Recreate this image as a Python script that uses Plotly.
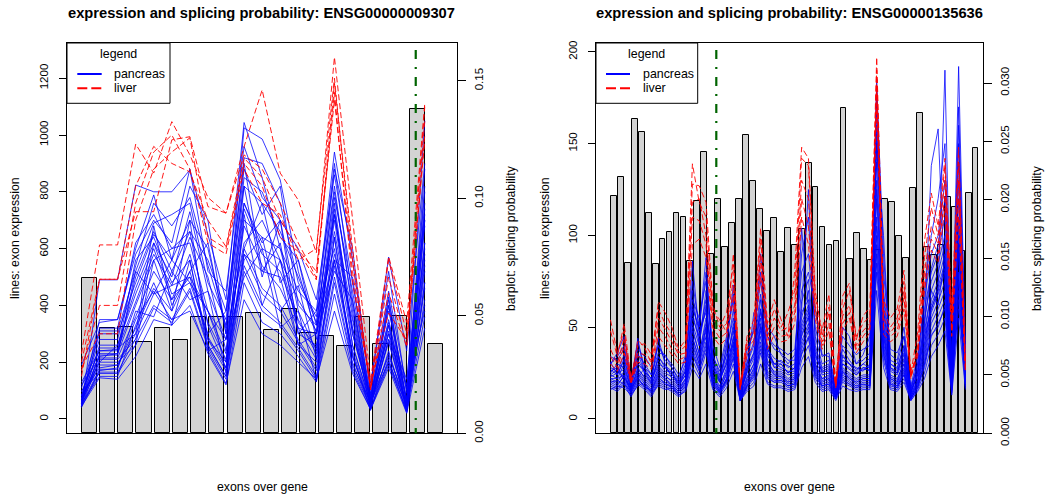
import plotly.graph_objects as go

W, H = 1047, 498
FONT = "Liberation Sans, Arial, Helvetica, sans-serif"

# ---------------- Gene 1 : ENSG00000009307 ----------------
gene1 = "ENSG00000009307"
exons1 = list(range(1, 21))
splice_prob1 = [0.0661, 0.0450, 0.0453, 0.0388, 0.0450, 0.0399, 0.0495, 0.0494, 0.0497, 0.0510,
                0.0438, 0.0531, 0.0425, 0.0416, 0.0370, 0.0495, 0.0378, 0.0500, 0.1381, 0.0381]
marker1 = 19.5
pancreas1 = [
    [45, 490, 490, 824, 800, 800, 877, 650, 420, 1044, 850, 600, 450, 380, 940, 560, 110, 570, 240, 900],
    [60, 350, 350, 600, 789, 560, 820, 700, 300, 1025, 986, 842, 520, 300, 880, 600, 90, 450, 110, 1050],
    [190, 340, 350, 580, 700, 620, 880, 520, 450, 960, 780, 700, 600, 420, 860, 480, 127, 520, 90, 820],
    [110, 310, 310, 520, 690, 720, 760, 480, 350, 920, 900, 760, 480, 360, 900, 420, 75, 400, 60, 880],
    [80, 300, 300, 480, 650, 560, 700, 600, 320, 880, 720, 820, 400, 330, 820, 380, 60, 430, 50, 760],
    [55, 260, 260, 460, 620, 500, 730, 450, 280, 850, 800, 640, 560, 280, 780, 450, 85, 380, 100, 700],
    [70, 250, 250, 300, 680, 400, 520, 620, 300, 600, 760, 480, 560, 330, 560, 500, 50, 300, 140, 720],
    [95, 240, 245, 410, 580, 470, 640, 500, 240, 760, 620, 700, 380, 240, 720, 320, 45, 330, 35, 620],
    [50, 230, 230, 400, 560, 600, 620, 380, 230, 740, 580, 520, 350, 230, 700, 300, 70, 300, 30, 580],
    [65, 225, 225, 520, 440, 560, 480, 300, 380, 900, 520, 620, 300, 380, 600, 220, 40, 400, 25, 480],
    [120, 215, 215, 360, 520, 420, 580, 340, 210, 680, 540, 460, 320, 210, 640, 260, 55, 270, 45, 540],
    [45, 210, 210, 280, 620, 440, 480, 380, 200, 820, 500, 700, 300, 260, 580, 350, 35, 200, 22, 700],
    [75, 200, 200, 260, 560, 380, 700, 280, 200, 560, 640, 380, 470, 210, 760, 300, 65, 220, 60, 620],
    [60, 190, 190, 320, 460, 380, 520, 290, 180, 600, 460, 400, 280, 180, 560, 230, 30, 240, 28, 480],
    [85, 180, 190, 300, 440, 470, 500, 280, 170, 580, 440, 380, 270, 170, 540, 220, 50, 230, 40, 460],
    [50, 175, 175, 380, 360, 520, 420, 450, 160, 720, 400, 560, 260, 300, 520, 420, 45, 330, 30, 560],
    [40, 165, 165, 280, 400, 350, 460, 260, 150, 540, 400, 340, 250, 150, 500, 200, 38, 210, 25, 420],
    [100, 160, 160, 260, 390, 340, 450, 250, 140, 520, 380, 330, 240, 140, 480, 190, 60, 200, 50, 400],
    [55, 150, 150, 330, 480, 330, 560, 240, 280, 500, 600, 320, 380, 135, 640, 180, 42, 280, 120, 380],
    [45, 145, 140, 220, 350, 330, 400, 230, 120, 480, 340, 300, 220, 130, 440, 170, 35, 190, 30, 360],
    [70, 200, 260, 440, 600, 420, 500, 380, 280, 620, 700, 560, 320, 300, 660, 320, 80, 340, 70, 600],
    [60, 220, 230, 500, 660, 520, 660, 330, 180, 700, 640, 600, 340, 250, 740, 260, 55, 310, 45, 680],
    [130, 240, 240, 560, 640, 480, 560, 260, 150, 580, 520, 500, 260, 200, 560, 240, 48, 280, 35, 520],
    [50, 320, 320, 620, 720, 600, 660, 560, 380, 820, 760, 660, 500, 340, 800, 400, 70, 350, 55, 740],
    [80, 280, 280, 540, 760, 680, 780, 540, 330, 760, 600, 560, 420, 310, 720, 360, 62, 420, 65, 800],
    [45, 170, 180, 350, 450, 350, 380, 240, 125, 420, 300, 260, 200, 140, 380, 160, 33, 180, 20, 320],
]
liver1 = [
    [230, 613, 613, 968, 866, 1047, 930, 780, 725, 959, 1159, 866, 771, 585, 1274, 700, 137, 572, 340, 1112],
    [200, 492, 492, 730, 730, 983, 994, 748, 725, 930, 880, 760, 620, 497, 1182, 600, 102, 444, 254, 1100],
    [150, 492, 492, 820, 960, 900, 870, 700, 607, 919, 850, 700, 595, 520, 1124, 520, 110, 560, 300, 1050],
    [180, 300, 300, 700, 880, 940, 990, 640, 600, 900, 820, 640, 590, 490, 1150, 480, 120, 373, 278, 980],
    [170, 400, 400, 760, 940, 1000, 880, 620, 580, 880, 760, 720, 560, 600, 1200, 560, 105, 500, 260, 1000],
]

# ---------------- Gene 2 : ENSG00000135636 ----------------
gene2 = "ENSG00000135636"
exons2 = list(range(1, 54))
splice_prob2 = [0.02034, 0.02199, 0.01455, 0.02694, 0.02583, 0.01890, 0.01451, 0.01665, 0.01721, 0.01884,
                0.01854, 0.01477, 0.01991, 0.02413, 0.01532, 0.02011, 0.01597, 0.01802, 0.02003, 0.02552,
                0.02157, 0.01923, 0.01734, 0.01840, 0.01549, 0.01755, 0.01614, 0.01746, 0.02312, 0.02111,
                0.01768, 0.01614, 0.01648, 0.02783, 0.01496, 0.01719, 0.01577, 0.01481, 0.01571, 0.02007,
                0.01984, 0.01691, 0.01505, 0.02098, 0.02745, 0.01592, 0.01528, 0.01614, 0.02020, 0.01935,
                0.01565, 0.02055, 0.02445]
marker2 = 16.5
pancreas2 = [
    [30,36,45,22,30,26,22,30,28,24, 20,26,86,45,60,30,22,30,50,14, 28,34,60,36,30,32,28,30,60,125, 40,28,30,15,35,30,26,30,28,185, 60,30,28,40,15,26,50,138,158,70, 25,60,30],
    [25,30,28,18,44,24,20,44,30,22, 18,24,60,50,88,28,20,40,73,12, 26,58,50,40,28,30,25,28,104,60, 35,26,28,14,30,28,24,28,26,150, 100,28,25,35,14,24,45,60,70,190, 22,80,28],
    [28,26,35,20,35,30,24,36,35,28, 22,35,70,40,70,35,24,35,60,16, 30,40,90,50,45,35,30,35,70,80, 60,35,34,17,50,45,30,35,45,170, 70,35,32,50,17,30,60,80,90,110, 30,192,35],
    [24,22,30,16,28,22,18,28,24,20, 16,22,50,35,55,24,18,26,45,12, 22,30,55,30,26,26,22,24,50,60, 30,22,24,13,28,25,22,24,24,130, 50,24,22,30,13,22,40,65,75,90, 20,120,24],
    [22,20,26,15,25,20,16,25,22,18, 15,20,45,32,50,22,16,24,42,11, 20,28,50,28,24,24,20,22,45,55, 28,20,22,12,26,23,20,22,22,120, 45,22,20,28,12,20,36,58,68,80, 18,105,22],
    [20,18,24,14,22,18,15,22,20,17, 14,18,40,30,45,20,15,22,38,10, 18,25,45,25,22,22,18,20,40,50, 26,18,20,12,24,21,18,20,20,110, 40,20,18,26,11,18,32,52,60,70, 17,90,20],
    [26,28,22,18,32,26,22,32,26,26, 20,28,55,45,65,26,20,32,48,14, 26,36,65,38,30,28,26,26,55,70, 34,26,26,14,32,30,28,26,30,160, 60,28,26,36,14,26,55,75,85,100, 26,140,26],
    [18,16,20,13,20,17,13,20,18,16, 13,17,35,26,40,18,14,20,34,10, 17,22,40,22,20,20,17,18,36,45, 24,17,18,11,22,19,17,18,18,90, 35,18,17,24,11,17,28,45,52,60, 15,75,18],
    [34,32,38,22,38,34,28,40,34,30, 24,32,65,55,75,40,28,45,65,18, 38,48,75,45,40,38,35,38,80,90, 50,34,36,18,45,40,35,38,40,175, 80,38,36,45,18,34,65,90,100,130, 32,150,36],
    [21,19,23,15,24,19,15,24,21,18, 15,19,42,30,48,21,15,22,40,11, 19,26,48,26,23,23,19,21,42,52, 27,19,21,12,25,22,19,21,21,100, 42,21,19,27,12,19,34,55,64,75, 17,95,21],
    [23,25,27,17,27,23,19,27,23,21, 17,22,48,36,52,23,17,28,44,12, 23,30,52,32,25,25,21,23,48,58, 30,22,23,13,27,24,21,23,23,140, 48,23,21,32,13,21,42,62,72,85, 19,110,23],
    [19,17,21,14,21,18,14,21,19,17, 14,18,38,28,42,19,14,21,36,10, 18,24,42,24,21,21,18,19,38,48, 25,18,19,11,23,20,18,19,19,95, 38,19,18,25,11,18,30,48,56,65, 16,80,19],
    [30,34,40,20,42,28,24,40,32,28, 21,30,75,50,80,34,26,42,68,15, 34,50,80,45,38,36,32,32,90,110, 45,30,32,16,40,36,30,32,36,180, 90,32,30,45,16,30,70,100,120,150, 28,170,32],
    [27,24,32,18,30,26,20,34,28,25, 19,26,58,42,62,28,21,30,52,13, 28,36,60,34,30,30,25,28,58,65, 36,25,27,14,34,30,25,28,28,150, 55,27,25,38,14,25,48,70,80,95, 24,130,28],
    [17,15,19,12,19,16,12,19,17,15, 12,16,32,24,36,17,13,19,30,10, 16,20,36,20,18,18,16,17,32,40, 22,16,17,11,20,18,16,17,17,80, 32,17,16,22,10,16,25,40,46,55, 14,65,17],
    [22,22,24,16,26,21,17,26,22,19, 16,21,44,33,50,22,16,25,42,11, 21,27,50,30,24,23,20,22,46,56, 29,21,22,12,26,22,20,22,22,125, 46,22,20,30,12,20,38,60,70,82, 18,100,22],
    [16,18,17,13,18,20,14,18,16,17, 13,15,28,22,30,16,12,17,26,10, 15,18,30,19,17,17,15,16,28,34, 20,15,16,10,18,16,15,16,16,70, 28,16,15,20,10,15,22,34,40,48, 13,55,16],
    [24,27,21,17,22,28,21,29,25,23, 19,24,52,40,44,30,21,35,40,15, 25,33,58,35,28,27,24,25,52,62, 32,24,25,15,30,27,24,27,27,105, 52,26,24,33,15,24,45,70,62,88, 22,96,26],
    [31,24,33,19,36,25,19,34,29,26, 17,27,62,48,58,32,23,38,55,13, 31,42,68,38,33,31,29,27,64,76, 38,27,29,16,38,32,27,30,33,155, 66,30,27,40,16,28,52,82,95,120, 24,160,30],
    [20,21,19,15,23,17,16,23,19,18, 15,20,36,27,38,19,15,21,33,11, 18,23,38,23,20,21,18,19,35,44, 23,18,19,12,21,19,17,19,18,85, 36,19,17,24,11,17,30,46,50,62, 16,70,19],
]
liver2 = [
    [54,36,48,20,43,39,30,64,58,50, 38,43,139,118,110,59,54,47,90,17, 45,54,104,52,65,54,45,81,148,142, 70,45,61,18,67,74,43,56,61,197, 65,55,60,81,25,47,97,123,105,142, 60,148,32],
    [48,34,52,22,40,41,35,60,52,46, 36,40,128,127,118,62,50,58,84,19, 42,50,98,48,60,50,58,70,142,138, 66,48,68,20,60,70,45,52,56,190, 60,50,55,75,23,40,88,115,100,138, 55,140,30],
    [38,30,44,21,36,35,32,55,49,42, 35,36,118,120,100,55,48,52,76,16, 40,46,90,45,55,48,50,62,130,120, 61,42,58,19,56,62,40,48,52,185, 55,47,52,70,22,38,80,105,95,130, 50,130,28],
    [34,28,40,20,34,33,28,50,45,38, 32,34,110,108,95,50,44,47,70,18, 38,43,85,42,50,45,46,58,120,105, 58,40,52,18,52,58,38,45,50,180, 50,45,48,66,24,36,75,98,90,122, 48,120,26],
    [30,26,36,19,31,30,27,45,40,35, 30,31,95,98,88,45,40,44,65,17, 35,40,78,38,46,42,43,52,110,95, 54,38,48,17,48,55,36,42,47,170, 46,42,45,60,23,34,70,92,85,115, 45,110,25],
]

ticks_expr1 = [0, 200, 400, 600, 800, 1000, 1200]
ticks_prob1 = [0.0, 0.05, 0.10, 0.15]
ticks_prob1_text = ["0.00", "0.05", "0.10", "0.15"]
ticks_expr2 = [0, 50, 100, 150, 200]
ticks_prob2 = [0.0, 0.005, 0.010, 0.015, 0.020, 0.025, 0.030]
ticks_prob2_text = ["0.000", "0.005", "0.010", "0.015", "0.020", "0.025", "0.030"]

# ---------------- figure ----------------
def px(x):
    return x / W

def py(y):
    return 1 - y / H

fig = go.Figure()

def add_panel(exons, probs, pancreas, liver, xb, yb, xl, yl):
    fig.add_trace(go.Bar(x=exons, y=probs, width=1 / 1.2,
                         marker=dict(color="#D3D3D3", line=dict(color="black", width=1)),
                         xaxis=xb, yaxis=yb, showlegend=False, hoverinfo="skip"))
    for s in pancreas:
        fig.add_trace(go.Scatter(x=exons, y=s, mode="lines",
                                 line=dict(color="rgba(0,0,255,0.78)", width=1),
                                 xaxis=xl, yaxis=yl, showlegend=False, hoverinfo="skip"))
    for s in liver:
        fig.add_trace(go.Scatter(x=exons, y=s, mode="lines",
                                 line=dict(color="rgba(255,0,0,0.9)", width=1, dash="6px,3px"),
                                 xaxis=xl, yaxis=yl, showlegend=False, hoverinfo="skip"))

add_panel(exons1, splice_prob1, pancreas1, liver1, "x", "y", "x3", "y3")
add_panel(exons2, splice_prob2, pancreas2, liver2, "x2", "y2", "x4", "y4")

dy = [py(433.3), py(43)]
dxL = [px(67), px(457.3)]
dxR = [px(596), px(982.7)]
tickfont = dict(size=11.5, family=FONT, color="black")
base_x = dict(showline=True, mirror=True, linecolor="black", linewidth=1, showticklabels=False,
              ticks="", showgrid=False, zeroline=False, automargin=False)
yprob = dict(side="right", ticks="outside", ticklen=8, tickwidth=1, tickcolor="black", tickangle=-90,
             showline=True, mirror=True, linecolor="black", linewidth=1, showgrid=False, zeroline=False,
             tickfont=tickfont, ticklabelstandoff=3, automargin=False)
yexpr = dict(side="left", ticks="outside", ticklen=7, tickwidth=1, tickcolor="black", tickangle=-90,
             showline=False, showgrid=False, zeroline=False, tickfont=tickfont, ticklabelstandoff=6,
             automargin=False)

fig.update_layout(
    template="none",
    width=W, height=H, autosize=False, margin=dict(l=0, r=0, t=0, b=0, pad=0),
    paper_bgcolor="white", plot_bgcolor="white",
    font=dict(family=FONT, size=12, color="black"),
    showlegend=False,
    bargap=0,
    xaxis=dict(domain=dxL, range=[-0.2233, 21.19], anchor="y", **base_x),
    yaxis=dict(domain=dy, range=[0, 0.1661], anchor="x", tickvals=ticks_prob1, ticktext=ticks_prob1_text, **yprob),
    xaxis3=dict(overlaying="x", range=[0.2, 21.8], visible=False, anchor="y3", automargin=False),
    yaxis3=dict(overlaying="y", anchor="x3", range=[-50.4, 1324], tickvals=ticks_expr1, **yexpr),
    xaxis2=dict(domain=dxR, range=[-1.5683, 54.025], anchor="y2", **base_x),
    yaxis2=dict(domain=dy, range=[0, 0.03343], anchor="x2", tickvals=ticks_prob2, ticktext=ticks_prob2_text, **yprob),
    xaxis4=dict(overlaying="x2", range=[-1.1245, 55.53], visible=False, anchor="y4", automargin=False),
    yaxis4=dict(overlaying="y2", anchor="x4", range=[-7.8, 204.8], tickvals=ticks_expr2, **yexpr),
)

shapes = []
annotations = []

def panel_decor(gene, marker, xl, title_x, ylab_x, yrlab_x, xlab_x, leg_x0, leg_x1, leg_title_x, leg_line_x0, leg_line_x1, leg_text_x):
    # splice-site marker (dark green dot-dash)
    shapes.append(dict(type="line", xref=xl, yref="paper", x0=marker, x1=marker, y0=py(50), y1=py(433.3),
                       line=dict(color="#006400", width=2.2, dash="9px,8px,2px,8px"), layer="above"))
    # legend box
    shapes.append(dict(type="rect", xref="paper", yref="paper", x0=px(leg_x0), x1=px(leg_x1), y0=py(103.3), y1=py(43),
                       fillcolor="white", line=dict(color="black", width=1), layer="above"))
    shapes.append(dict(type="line", xref="paper", yref="paper", x0=px(leg_line_x0), x1=px(leg_line_x1), y0=py(74), y1=py(74),
                       line=dict(color="blue", width=2), layer="above"))
    shapes.append(dict(type="line", xref="paper", yref="paper", x0=px(leg_line_x0), x1=px(leg_line_x1), y0=py(88.3), y1=py(88.3),
                       line=dict(color="red", width=2, dash="10px,4px"), layer="above"))
    annotations.append(dict(text="legend", x=px(leg_title_x), y=py(54), xref="paper", yref="paper", showarrow=False,
                            xanchor="center", yanchor="middle", font=dict(size=12.4)))
    annotations.append(dict(text="pancreas", x=px(leg_text_x), y=py(74), xref="paper", yref="paper", showarrow=False,
                            xanchor="left", yanchor="middle", font=dict(size=12.4)))
    annotations.append(dict(text="liver", x=px(leg_text_x), y=py(88.3), xref="paper", yref="paper", showarrow=False,
                            xanchor="left", yanchor="middle", font=dict(size=12.4)))
    # titles
    annotations.append(dict(text="<b>expression and splicing probability: " + gene + "</b>", x=px(title_x), y=py(13.3),
                            xref="paper", yref="paper", showarrow=False, xanchor="center", yanchor="middle",
                            font=dict(size=14.7)))
    annotations.append(dict(text="lines: exon expression", x=px(ylab_x), y=py(238), xref="paper", yref="paper",
                            showarrow=False, textangle=-90, xanchor="center", yanchor="middle", font=dict(size=12.3)))
    annotations.append(dict(text="barplot: splicing probability", x=px(yrlab_x), y=py(238), xref="paper", yref="paper",
                            showarrow=False, textangle=-90, xanchor="center", yanchor="middle", font=dict(size=12.3)))
    annotations.append(dict(text="exons over gene", x=px(xlab_x), y=py(487), xref="paper", yref="paper",
                            showarrow=False, xanchor="center", yanchor="middle", font=dict(size=12.3)))

panel_decor(gene1, marker1, "x3", 261.7, 15, 511, 262, 67, 170, 118, 77.3, 101.7, 112.3)
panel_decor(gene2, marker2, "x4", 789.3, 545, 1037, 789, 596, 697.7, 646, 606, 630, 640.7)

fig.update_layout(shapes=shapes, annotations=annotations)
fig.write_html("out.html")
